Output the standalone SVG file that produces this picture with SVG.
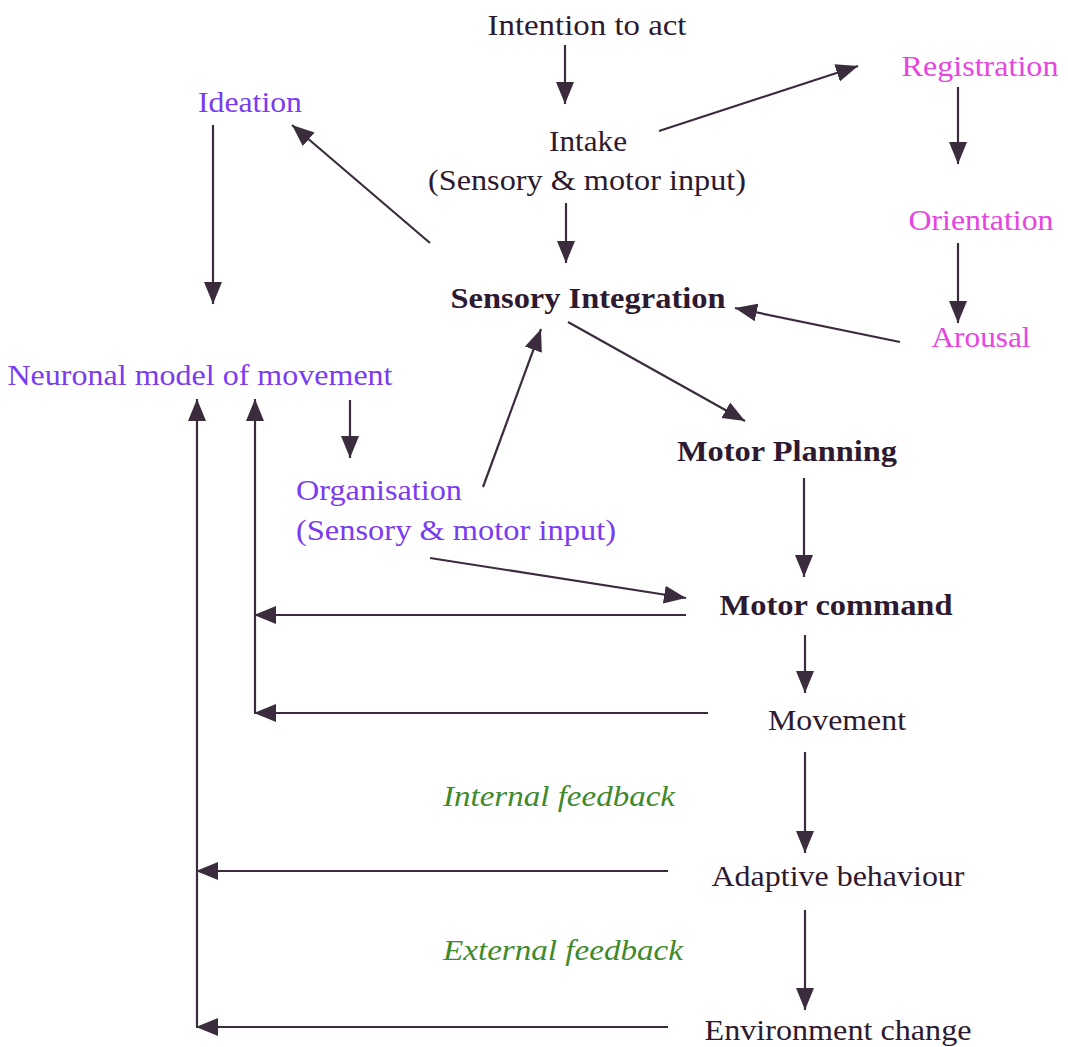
<svg xmlns="http://www.w3.org/2000/svg" width="1068" height="1047" viewBox="0 0 1068 1047">
<defs>
<marker id="ah" markerUnits="userSpaceOnUse" markerWidth="24" markerHeight="20" refX="22" refY="10" orient="auto">
<path d="M0,1 L22,10 L0,19 Z" fill="#3a2c3c"/>
</marker>
<style>
text{font-family:"Liberation Serif","Times New Roman",serif;font-size:30px;text-anchor:middle}
.k{fill:#2e1a30}
.b{font-weight:bold}
.p{fill:#7a3cf0}
.m{fill:#e645e0}
.g{fill:#3f8a2c;font-style:italic}
.c line{stroke:#3a2c3c;stroke-width:2.2;fill:none}
.c .a{marker-end:url(#ah)}
</style>
</defs>
<rect width="1068" height="1047" fill="#fff"/>
<g id="n-intention"><text class="k" x="587" y="35" textLength="199" lengthAdjust="spacingAndGlyphs">Intention to act</text></g>
<g id="n-intake"><text class="k" x="588" y="151" textLength="78" lengthAdjust="spacingAndGlyphs">Intake</text><text class="k" x="587" y="190" textLength="318" lengthAdjust="spacingAndGlyphs">(Sensory &amp; motor input)</text></g>
<g id="n-si"><text class="k b" x="588" y="308" textLength="275" lengthAdjust="spacingAndGlyphs">Sensory Integration</text></g>
<g id="n-registration"><text class="m" x="980" y="76" textLength="157" lengthAdjust="spacingAndGlyphs">Registration</text></g>
<g id="n-orientation"><text class="m" x="981" y="230" textLength="145" lengthAdjust="spacingAndGlyphs">Orientation</text></g>
<g id="n-arousal"><text class="m" x="981" y="347" textLength="99" lengthAdjust="spacingAndGlyphs">Arousal</text></g>
<g id="n-ideation"><text class="p" x="250" y="112" textLength="104" lengthAdjust="spacingAndGlyphs">Ideation</text></g>
<g id="n-neuronal"><text class="p" x="200" y="385" textLength="385" lengthAdjust="spacingAndGlyphs">Neuronal model of movement</text></g>
<g id="n-motorplanning"><text class="k b" x="787" y="461" textLength="220" lengthAdjust="spacingAndGlyphs">Motor Planning</text></g>
<g id="n-organisation"><text class="p" x="379" y="500" textLength="166" lengthAdjust="spacingAndGlyphs">Organisation</text><text class="p" x="456" y="540" textLength="320" lengthAdjust="spacingAndGlyphs">(Sensory &amp; motor input)</text></g>
<g id="n-motorcommand"><text class="k b" x="836" y="615" textLength="233" lengthAdjust="spacingAndGlyphs">Motor command</text></g>
<g id="n-movement"><text class="k" x="837" y="730" textLength="138" lengthAdjust="spacingAndGlyphs">Movement</text></g>
<g id="n-internal"><text class="g" x="559" y="806" textLength="232" lengthAdjust="spacingAndGlyphs">Internal feedback</text></g>
<g id="n-adaptive"><text class="k" x="838" y="886" textLength="253" lengthAdjust="spacingAndGlyphs">Adaptive behaviour</text></g>
<g id="n-external"><text class="g" x="563" y="960" textLength="240" lengthAdjust="spacingAndGlyphs">External feedback</text></g>
<g id="n-environment"><text class="k" x="838" y="1040" textLength="267" lengthAdjust="spacingAndGlyphs">Environment change</text></g>
<g id="connectors" class="c">
<line class="a" x1="565" y1="45" x2="565" y2="104"/>
<line class="a" x1="566" y1="203" x2="566" y2="263"/>
<line class="a" x1="659" y1="131" x2="858" y2="66"/>
<line class="a" x1="430" y1="243" x2="292" y2="125"/>
<line class="a" x1="213" y1="125" x2="213" y2="304"/>
<line class="a" x1="958" y1="87" x2="958" y2="164"/>
<line class="a" x1="958" y1="243" x2="958" y2="323"/>
<line class="a" x1="900" y1="342" x2="735" y2="308"/>
<line class="a" x1="568" y1="322" x2="745" y2="421"/>
<line class="a" x1="483" y1="487" x2="541" y2="329"/>
<line class="a" x1="350" y1="400" x2="350" y2="458"/>
<line class="a" x1="804" y1="478" x2="804" y2="577"/>
<line class="a" x1="430" y1="558" x2="686" y2="598"/>
<line class="a" x1="686" y1="615" x2="254" y2="615"/>
<line class="a" x1="708" y1="713" x2="254" y2="713"/>
<line class="a" x1="255" y1="713" x2="255" y2="399"/>
<line class="a" x1="805" y1="635" x2="805" y2="693"/>
<line class="a" x1="805" y1="752" x2="805" y2="853"/>
<line class="a" x1="668" y1="871" x2="196" y2="871"/>
<line class="a" x1="805" y1="910" x2="805" y2="1010"/>
<line class="a" x1="668" y1="1027" x2="196" y2="1027"/>
<line class="a" x1="197" y1="1027" x2="197" y2="399"/>
</g>
</svg>
